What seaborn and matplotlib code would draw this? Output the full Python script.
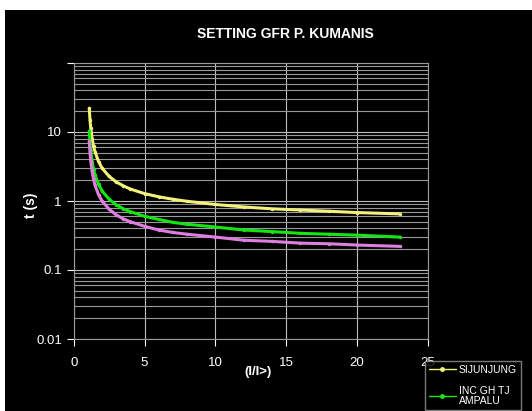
import pandas as pd
import seaborn as sns
from matplotlib import pyplot as plt
from matplotlib.patches import Rectangle
from matplotlib.ticker import FixedLocator, NullFormatter, LogLocator

# I/I> multiples
current = [1.1, 1.15, 1.2, 1.3, 1.4, 1.5, 1.75, 2, 2.5, 3, 3.5, 4, 5, 6, 7, 8,
           10, 12, 14, 16, 18, 20, 23]
# trip times (s)
sijunjung = [22.0, 15.0, 11.5, 8.0, 6.2, 5.2, 3.73, 3.0, 2.27, 1.89, 1.66, 1.49,
             1.28, 1.15, 1.06, 0.99, 0.89, 0.82, 0.77, 0.74, 0.71, 0.68, 0.65]
inc_gh_tj = [10.3, 7.0, 5.4, 3.7, 2.9, 2.4, 1.74, 1.4, 1.06, 0.88, 0.77, 0.70,
             0.60, 0.54, 0.49, 0.46, 0.42, 0.38, 0.36, 0.34, 0.33, 0.32, 0.30]
third = [7.3, 5.0, 3.8, 2.7, 2.07, 1.7, 1.24, 1.0, 0.76, 0.63, 0.55, 0.50,
         0.43, 0.38, 0.35, 0.33, 0.30, 0.27, 0.26, 0.245, 0.24, 0.23, 0.22]

series = {'SIJUNJUNG': sijunjung, 'INC GH TJ\nAMPALU': inc_gh_tj, 'GFR': third}
colors = {'SIJUNJUNG': '#f2f27a', 'INC GH TJ\nAMPALU': '#14e614', 'GFR': '#e07ee0'}

df = pd.DataFrame([(k, x, y) for k, v in series.items() for x, y in zip(current, v)],
                  columns=['relay', 'I', 't'])

sns.set_style('dark')
plt.rcParams['font.family'] = ['Liberation Sans', 'DejaVu Sans']

fig = plt.figure(figsize=(5.32, 4.11), dpi=100, facecolor='black')
# white strips at top and left of the screenshot
fig.add_artist(Rectangle((0, 1 - 10 / 411), 1, 10 / 411, transform=fig.transFigure,
                         facecolor='white', edgecolor='none', zorder=0))
fig.add_artist(Rectangle((0, 0), 5 / 532, 1, transform=fig.transFigure,
                         facecolor='white', edgecolor='none', zorder=0))

ax = fig.add_axes([73.7 / 532, 1 - 339 / 411, (428 - 73.7) / 532, (339 - 63) / 411])
ax.set_facecolor('black')

sns.lineplot(data=df, x='I', y='t', hue='relay', palette=colors, ax=ax,
             marker='o', markersize=2.5, markeredgewidth=0, linewidth=2.2,
             legend=False)

ax.set_yscale('log')
ax.set_xlim(0, 25)
ax.set_ylim(0.01, 100)
ax.set_xticks([0, 5, 10, 15, 20, 25])
ax.yaxis.set_major_locator(FixedLocator([0.01, 0.1, 1, 10, 100]))
ax.set_yticklabels(['0.01', '0.1', '1', '10', ''])
ax.yaxis.set_minor_locator(LogLocator(base=10, subs=range(2, 10)))
ax.yaxis.set_minor_formatter(NullFormatter())

ax.grid(True, which='major', axis='both', color='#bdbdbd', linewidth=0.8)
ax.grid(True, which='minor', axis='y', color='#999999', linewidth=0.8)
ax.tick_params(axis='both', which='major', colors='white', labelsize=9.5,
               length=5, width=0.8, direction='out', left=True, bottom=True)
ax.tick_params(axis='x', pad=8)
ax.tick_params(axis='y', which='minor', length=0)
for s in ax.spines.values():
    s.set_color('#9a9a9a')
    s.set_linewidth(0.8)
ax.set_xlabel('')
ax.set_ylabel('')

fig.text(0.537, 0.918, 'SETTING GFR P. KUMANIS', color='white', fontsize=10,
         fontweight='bold', ha='center', va='center')
fig.text(0.058, 1 - 205 / 411, 't (s)', color='white', fontsize=10,
         fontweight='bold', rotation=90, ha='center', va='center')
fig.text(258 / 532, 1 - 372 / 411, '(I/I>)', color='white', fontsize=9.5,
         fontweight='bold', ha='center', va='center')

handles = [plt.Line2D([], [], color=colors[k], marker='o', markersize=2.5,
                      linewidth=1) for k in list(series)[:2]]
leg = fig.legend(handles, list(series)[:2], loc='upper left',
                 bbox_to_anchor=(425 / 532, 1 - 361 / 411), frameon=True,
                 fontsize=7.5, labelspacing=1.1, handlelength=2.6,
                 handletextpad=0.3, borderpad=0.35, borderaxespad=0,
                 fancybox=False)
leg.get_frame().set_facecolor('black')
leg.get_frame().set_edgecolor('#9a9a9a')
for t in leg.get_texts():
    t.set_color('white')
    t.set_linespacing(1.0)

fig.savefig('out.png', dpi=100, facecolor='black')
